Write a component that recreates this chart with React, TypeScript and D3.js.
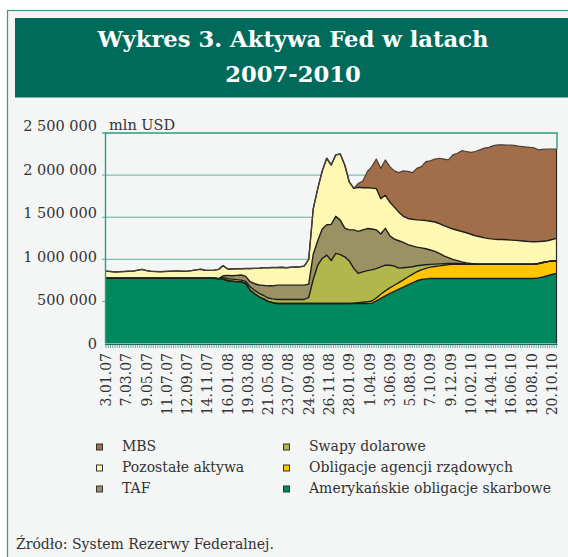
import { useEffect, useRef } from 'react';
import * as d3 from 'd3';

// week index counted from 3.01.07, sampled every 2 weeks; values in bln USD
const weeks = d3.range(0, 201, 2);

const treasuries = [
  775, 775, 775, 775, 775, 775, 775, 775, 775, 775,
  775, 775, 775, 775, 775, 775, 775, 775, 775, 775,
  775, 775, 775, 775, 775, 770,
  765, 745, 740, 735, 733, 713, 634, 590, 555, 530, 500, 485,
  475, 475, 475, 475, 475, 475, 475, 475, 475, 475, 475,
  475, 475, 475, 475, 475, 475, 475, 475, 475, 475,
  480, 505, 535, 565, 595, 620, 645, 670, 695, 720, 745, 760, 768, 772, 774,
  772, 772, 772, 772, 772, 772, 772, 772, 772, 772, 772,
  772, 772, 772, 772, 772, 772, 772, 772, 772, 772, 772,
  780, 790, 805, 820, 833,
];

const agency = [
  0, 0, 0, 0, 0, 0, 0, 0, 0, 0, 0, 0, 0, 0, 0, 0, 0, 0, 0, 0,
  0, 0, 0, 0, 0, 0, 0, 0, 0, 0, 0, 0, 0, 0, 0, 0, 0, 0, 0, 0,
  0, 0, 0, 0, 0, 0, 0, 0, 0, 0, 0, 0, 0, 0, 0,
  5, 10, 15, 20, 25, 35, 50, 60, 65, 72, 78, 85, 95, 102, 107, 115, 125, 135, 140, 150, 158, 165, 168,
  170, 170, 170, 170, 170, 170, 170, 170, 170, 170,
  170, 170, 170, 170, 170, 170, 170, 170, 170,
  172, 168, 160, 150,
];

const swaps = [
  0, 0, 0, 0, 0, 0, 0, 0, 0, 0, 0, 0, 0, 0, 0, 0, 0, 0, 0, 0, 0, 0, 0, 0, 0, 0,
  20, 24, 24, 24, 20, 24, 40, 40, 40, 40, 40, 45,
  48, 48, 48, 48, 48, 48, 48,
  70, 285, 455, 535, 575, 510, 595, 580, 555, 505, 412, 347, 360, 370, 370, 350, 325, 305,
  270, 228, 172, 145, 115, 90, 71, 55, 42, 33, 29, 24, 18, 13, 11, 8, 5, 2,
  0, 0, 0, 0, 0, 0, 0, 0, 0, 0, 0, 0, 0, 0, 0, 0, 0, 0, 0, 0,
];

const taf = [
  0, 0, 0, 0, 0, 0, 0, 0, 0, 0, 0, 0, 0, 0, 0, 0, 0, 0, 0, 0, 0, 0, 0, 0, 0, 0,
  20, 40, 40, 50, 60, 60, 60, 80, 100, 120, 145, 155,
  170, 170, 170, 170, 170, 170, 170,
  160, 300, 290, 350, 360, 430, 440, 410, 340, 370, 458, 500, 500, 500, 485, 460, 390, 437, 350,
  320, 325, 300, 270, 248, 222, 205, 190, 170, 152, 124, 92, 70, 49, 35, 23, 14, 8, 2,
  0, 0, 0, 0, 0, 0, 0, 0, 0, 0, 0, 0, 0, 0, 0, 0, 0, 0,
];

const otherAssets = [
  85, 80, 75, 77, 80, 83, 85, 95, 105, 90, 83, 80, 77, 80, 83, 85, 87, 83, 85, 90,
  100, 107, 95, 93, 97, 110,
  120, 76, 81, 79, 75, 93, 156, 182, 200, 210, 215, 217,
  209, 212, 207, 212, 215, 217, 227,
  295, 540, 620, 690, 790, 705, 730, 785, 750, 570, 492,
  523, 500, 485, 485, 490, 420, 393, 400, 380, 340,
  310, 310, 315, 323, 330, 335, 342, 348, 355, 360,
  360, 360, 360, 360, 357, 348, 336, 326, 313, 304,
  298, 294, 293, 290, 286, 283, 278, 273, 268, 266,
  260, 253, 247, 255, 265,
];

const mbs = [
  0, 0, 0, 0, 0, 0, 0, 0, 0, 0, 0, 0, 0, 0, 0, 0, 0, 0, 0, 0,
  0, 0, 0, 0, 0, 0, 0, 0, 0, 0, 0, 0, 0, 0, 0, 0, 0, 0, 0, 0,
  0, 0, 0, 0, 0, 0, 0, 0, 0, 0, 0, 0, 0, 0, 0, 0,
  45, 80, 190, 255, 350, 360, 420, 420, 430, 470,
  540, 560, 555, 612, 635, 700, 718, 747, 775, 790,
  800, 880, 915, 960, 965, 972, 1000, 1032, 1065, 1084,
  1110, 1124, 1125, 1123, 1127, 1125, 1120, 1120, 1120, 1117,
  1090, 1090, 1090, 1075, 1062,
];

const tickLabels = [
  '3.01.07', '7.03.07', '9.05.07', '11.07.07', '12.09.07', '14.11.07', '16.01.08',
  '19.03.08', '21.05.08', '23.07.08', '24.09.08', '26.11.08', '28.01.09', '1.04.09',
  '3.06.09', '5.08.09', '7.10.09', '9.12.09', '10.02.10', '14.04.10', '16.06.10',
  '18.08.10', '20.10.10',
];

const yTicks = [0, 500000, 1000000, 1500000, 2000000, 2500000];

const series = [
  { key: 'treasuries', label: 'Amerykańskie obligacje skarbowe', color: '#00895e', values: treasuries },
  { key: 'agency', label: 'Obligacje agencji rządowych', color: '#ffc600', values: agency },
  { key: 'swaps', label: 'Swapy dolarowe', color: '#b2b74c', values: swaps },
  { key: 'taf', label: 'TAF', color: '#9a9262', values: taf },
  { key: 'other', label: 'Pozostałe aktywa', color: '#fff8b3', values: otherAssets },
  { key: 'mbs', label: 'MBS', color: '#a26e4a', values: mbs },
];

const legendOrder = ['mbs', 'other', 'taf', 'swaps', 'agency', 'treasuries'];

const FONT = '"DejaVu Serif", serif';

export default function App() {
  const svgRef = useRef<SVGSVGElement>(null);

  useEffect(() => {
    if (!svgRef.current) return;
    const svg = d3.select(svgRef.current);
    svg.selectAll('*').remove();

    const x = d3.scaleLinear().domain([0, 200]).range([106, 556.5]);
    const y = d3.scaleLinear().domain([0, 2500000]).range([343.5, 133]);
    const yLabel = d3.scaleLinear().domain([0, 2500000]).range([349, 131.3]);
    const fmt = d3.formatLocale({ decimal: ',', thousands: ' ', grouping: [3], currency: ['', ''] }).format(',');

    // page frame + title band
    svg.append('rect').attr('width', 568).attr('height', 557).attr('fill', '#ffffff');
    svg.append('rect')
      .attr('x', 7.5).attr('y', 10.5).attr('width', 600).attr('height', 600)
      .attr('fill', '#f4f6f5').attr('stroke', '#3a9a86').attr('stroke-width', 1.2);
    svg.append('rect')
      .attr('x', 15).attr('y', 18).attr('width', 560).attr('height', 79.5)
      .attr('fill', '#006b5a');
    const title = svg.append('text')
      .attr('text-anchor', 'middle')
      .attr('fill', '#ffffff')
      .style('font-family', FONT)
      .style('font-weight', 'bold')
      .style('font-size', '22.7px');
    title.append('tspan').attr('x', 293).attr('y', 47).text('Wykres 3. Aktywa Fed w latach');
    title.append('tspan').attr('x', 293).attr('y', 82).text('2007-2010');

    // gridlines
    svg.append('g')
      .selectAll('line')
      .data(yTicks.slice(1, -1))
      .join('line')
      .attr('x1', 102).attr('x2', x(200))
      .attr('y1', (d) => y(d)).attr('y2', (d) => y(d))
      .attr('stroke', '#64b09a').attr('stroke-width', 1);

    // stacked areas
    const rows = weeks.map((w, i) => {
      const r: Record<string, number> = { w };
      series.forEach((s) => (r[s.key] = s.values[i] * 1000));
      return r;
    });
    const stacked = d3.stack<Record<string, number>>().keys(series.map((s) => s.key))(rows);

    const area = d3.area<d3.SeriesPoint<Record<string, number>>>()
      .x((d) => x(d.data.w))
      .y0((d) => y(d[0]))
      .y1((d) => y(d[1]));
    const line = d3.line<d3.SeriesPoint<Record<string, number>>>()
      .x((d) => x(d.data.w))
      .y((d) => y(d[1]));

    svg.append('g')
      .selectAll('path')
      .data(stacked)
      .join('path')
      .attr('d', (d) => area(d) as string)
      .attr('fill', (d, i) => series[i].color);

    svg.append('g')
      .selectAll('path')
      .data(stacked)
      .join('path')
      .attr('d', (d) => line(d) as string)
      .attr('fill', 'none')
      .attr('stroke', (d, i) => (i === series.length - 1 ? '#4a4038' : '#1e1e1e'))
      .attr('stroke-width', (d, i) => (i === series.length - 1 ? 1.2 : 1.4))
      .attr('stroke-linejoin', 'round');

    // plot frame: left axis, top, right
    const top = stacked[stacked.length - 1];
    svg.append('line')
      .attr('x1', x(200)).attr('x2', x(200))
      .attr('y1', y(top[top.length - 1][1])).attr('y2', y(0))
      .attr('stroke', '#2a2a2a').attr('stroke-width', 1.2);
    svg.append('path')
      .attr('d', `M${x(0) - 0.5},${y(0)}V${y(2500000)}H${x(200) + 0.5}V${y(top[top.length - 1][1])}`)
      .attr('fill', 'none').attr('stroke', '#2e9c7c').attr('stroke-width', 1.4);
    svg.append('line')
      .attr('x1', 102).attr('x2', x(0))
      .attr('y1', y(2500000)).attr('y2', y(2500000))
      .attr('stroke', '#2e9c7c').attr('stroke-width', 1.2);

    // bottom axis with weekly ticks
    svg.append('line')
      .attr('x1', x(0) - 1).attr('x2', x(200) + 1)
      .attr('y1', y(0) + 1).attr('y2', y(0) + 1)
      .attr('stroke', '#2a5e6a').attr('stroke-width', 1);
    svg.append('g')
      .selectAll('line')
      .data(d3.range(0, 201))
      .join('line')
      .attr('x1', (d) => x(d)).attr('x2', (d) => x(d))
      .attr('y1', y(0) + 1.5).attr('y2', y(0) + 4.5)
      .attr('stroke', '#5aa693').attr('stroke-width', 0.9);

    svg.append('g')
      .selectAll('text')
      .data(tickLabels)
      .join('text')
      .attr('transform', (d, i) => `translate(${x(i * 9) + 5},353) rotate(-90)`)
      .attr('text-anchor', 'end')
      .attr('fill', '#333')
      .style('font-family', FONT)
      .style('font-size', '14px')
      .text((d) => d);

    // y labels
    svg.append('g')
      .selectAll('text')
      .data(yTicks)
      .join('text')
      .attr('x', 97)
      .attr('y', (d) => yLabel(d))
      .attr('text-anchor', 'end')
      .attr('fill', '#333')
      .style('font-family', FONT)
      .style('font-size', '14.5px')
      .text((d) => fmt(d));

    svg.append('text')
      .attr('x', 109).attr('y', 130)
      .attr('fill', '#333')
      .style('font-family', FONT)
      .style('font-size', '14.5px')
      .text('mln USD');

    // legend
    const legend = svg.append('g')
      .selectAll('g')
      .data(legendOrder.map((k) => series.find((s) => s.key === k)!))
      .join('g')
      .attr('transform', (d, i) => `translate(${i < 3 ? 96 : 283},${450.5 + (i % 3) * 21})`);
    legend.append('rect')
      .attr('x', 0.5).attr('y', -6.5).attr('width', 6).attr('height', 6)
      .attr('fill', (d) => d.color)
      .attr('stroke', '#333').attr('stroke-width', 1);
    legend.append('text')
      .attr('x', 26)
      .attr('fill', '#333')
      .style('font-family', FONT)
      .style('font-size', '14px')
      .text((d) => d.label);

    svg.append('text')
      .attr('x', 16).attr('y', 549)
      .attr('fill', '#333')
      .style('font-family', FONT)
      .style('font-size', '14px')
      .text('Źródło: System Rezerwy Federalnej.');
  }, []);

  return (
    <svg
      ref={svgRef}
      width={568}
      height={557}
      style={{ position: 'absolute', left: 0, top: 0, display: 'block' }}
    />
  );
}
